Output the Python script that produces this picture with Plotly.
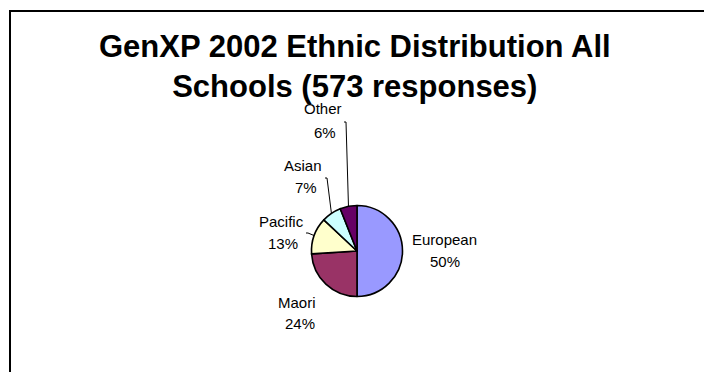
import math
import plotly.graph_objects as go

# Ethnic distribution of the 573 survey responses (percent of all schools)
groups = ["European", "Maori", "Pacific", "Asian", "Other"]
shares = [50, 24, 13, 7, 6]
colors = ["#9999FF", "#993366", "#FFFFCC", "#CCFFFF", "#660066"]

title_lines = ["GenXP 2002 Ethnic Distribution All", "Schools (573 responses)"]

W, H = 704, 372
FONT = "Arial, Liberation Sans, sans-serif"

# pie placement in pixels
cx, cy, r = 357, 251, 45.5

# label centres (name line, percent line) in pixels
label_pos = {
    "European": ((444, 239), (445, 261)),
    "Maori": ((297, 302), (300, 323)),
    "Pacific": ((281, 221), (283, 243)),
    "Asian": ((303, 165), (306, 187)),
    "Other": ((323, 109), (325, 132)),
}
# outer end of the leader line for labels that have one
leader_start = {
    "Pacific": (308, 233),
    "Asian": (327, 178),
    "Other": (346, 122),
}


def fx(x):
    return x / W


def fy(y):
    return 1 - y / H


fig = go.Figure(
    go.Pie(
        labels=groups,
        values=shares,
        sort=False,
        direction="clockwise",
        rotation=0,
        textinfo="none",
        hoverinfo="label+percent",
        marker=dict(colors=colors, line=dict(color="#000000", width=1.6)),
        domain=dict(
            x=[fx(cx - r), fx(cx + r)],
            y=[fy(cy + r), fy(cy - r)],
        ),
        showlegend=False,
    )
)

annotations = [
    dict(
        text="<b>" + "<br>".join(title_lines) + "</b>",
        x=fx(355), y=fy(66), xref="paper", yref="paper",
        xanchor="center", yanchor="middle", showarrow=False,
        font=dict(family=FONT, size=31, color="#000000"),
    )
]

shapes = [
    # chart frame (open to the right and bottom of the window)
    dict(type="rect", xref="paper", yref="paper",
         x0=fx(10), x1=fx(W + 20), y0=fy(H + 20), y1=fy(11),
         line=dict(color="#000000", width=2), fillcolor="rgba(0,0,0,0)"),
]

total = sum(shares)
cum = 0
for name, val in zip(groups, shares):
    (nx, ny), (px, py) = label_pos[name]
    annotations.append(dict(
        text=name, x=fx(nx), y=fy(ny), xref="paper", yref="paper",
        xanchor="center", yanchor="middle", showarrow=False,
        font=dict(family=FONT, size=15, color="#000000"),
    ))
    annotations.append(dict(
        text=f"{val}%", x=fx(px), y=fy(py), xref="paper", yref="paper",
        xanchor="center", yanchor="middle", showarrow=False,
        font=dict(family=FONT, size=15, color="#000000"),
    ))
    mid = (cum + val / 2) / total * 2 * math.pi
    cum += val
    if name in leader_start:
        sx, sy = leader_start[name]
        ex = cx + r * math.sin(mid)
        ey = cy - r * math.cos(mid)
        path = (f"M {fx(sx - 2)},{fy(sy)} L {fx(sx)},{fy(sy)} "
                f"L {fx(ex)},{fy(ey)}")
        shapes.append(dict(type="path", xref="paper", yref="paper", path=path,
                           line=dict(color="#000000", width=1)))

fig.update_layout(
    width=W, height=H,
    margin=dict(l=0, r=0, t=0, b=0),
    paper_bgcolor="#FFFFFF",
    plot_bgcolor="#FFFFFF",
    annotations=annotations,
    shapes=shapes,
)

fig.write_html("out.html")
